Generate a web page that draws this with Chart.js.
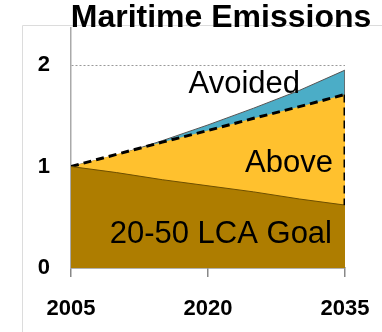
<!DOCTYPE html>
<html>
<head>
<meta charset="utf-8">
<title>Maritime Emissions</title>
<script src="https://cdn.jsdelivr.net/npm/chart.js@4/dist/chart.umd.min.js"></script>
<style>
  html, body { margin: 0; padding: 0; background: #fff; }
  #wrap { position: relative; width: 382px; height: 332px; }
</style>
</head>
<body>
<div id="wrap"><canvas id="c"></canvas></div>
<script>
// Emissions relative to 2005 (2005 = 1)
const years = [2005, 2010, 2015, 2020, 2025, 2030, 2035];
const goalValues = [1.0, 0.94, 0.87, 0.81, 0.75, 0.68, 0.62];      // 20-50 LCA goal
const aboveValues = [1.0, 1.12, 1.24, 1.355, 1.475, 1.59, 1.71];   // dashed trajectory
const totalValues = [1.0, 1.11, 1.255, 1.41, 1.575, 1.75, 1.95];   // business as usual
const yTickValues = [0, 1, 2];
const xTickValues = [2005, 2020, 2035];
const chartTitle = 'Maritime Emissions';
const areaLabels = ['Avoided', 'Above', '20-50 LCA Goal'];

const FONT = '"Liberation Sans", Arial, sans-serif';
const pts = vals => years.map((y, i) => ({ x: y, y: vals[i] }));
const last = years.length - 1;

// Frame, title and area labels drawn around the plot
const decor = {
  id: 'decor',
  beforeDraw(chart) {
    const ctx = chart.ctx;
    ctx.save();
    ctx.strokeStyle = '#dcdcdc';
    ctx.lineWidth = 1;
    ctx.beginPath();
    ctx.moveTo(22.5, 332);
    ctx.lineTo(22.5, 25.5);
    ctx.lineTo(382, 25.5);
    ctx.stroke();
    ctx.restore();
  },
  afterDraw(chart) {
    const ctx = chart.ctx;
    const xs = chart.scales.x, ys = chart.scales.y;
    ctx.save();
    ctx.fillStyle = '#000';
    ctx.textBaseline = 'alphabetic';
    ctx.font = 'bold 32px ' + FONT;
    ctx.textAlign = 'center';
    ctx.fillText(chartTitle, 221, 27);

    ctx.font = '31px ' + FONT;
    ctx.textAlign = 'right';
    const xr = xs.getPixelForValue(2035);
    ctx.fillText(areaLabels[0], xr - 45, ys.getPixelForValue(1.72));
    ctx.fillText(areaLabels[1], xr - 12, ys.getPixelForValue(0.946));
    ctx.fillText(areaLabels[2], xr - 13, ys.getPixelForValue(0.246));
    ctx.restore();
  }
};

new Chart(document.getElementById('c'), {
  type: 'line',
  data: {
    datasets: [
      {
        label: 'Goal to 2035',
        data: [{ x: years[last], y: aboveValues[last] }, { x: years[last], y: goalValues[last] }],
        borderColor: '#000', borderWidth: 3, borderDash: [8, 5],
        pointRadius: 0, fill: false, order: 0
      },
      {
        label: '20-50 LCA Goal',
        data: pts(goalValues),
        borderColor: '#6e4f00', borderWidth: 1,
        backgroundColor: '#AE7D00',
        pointRadius: 0, fill: 'origin', order: 1
      },
      {
        label: 'Above',
        data: pts(aboveValues),
        borderColor: '#000', borderWidth: 3, borderDash: [8, 5],
        backgroundColor: '#FFC12E',
        pointRadius: 0, fill: 'origin', order: 2
      },
      {
        label: 'Right edge',
        data: [{ x: years[last], y: totalValues[last] }, { x: years[last], y: 0 }],
        borderColor: '#666', borderWidth: 1,
        pointRadius: 0, fill: false, order: 3
      },
      {
        label: 'Avoided',
        data: pts(totalValues),
        borderColor: '#555', borderWidth: 1,
        backgroundColor: '#4BADC7',
        pointRadius: 0, fill: 'origin', order: 4
      }
    ]
  },
  options: {
    responsive: true,
    maintainAspectRatio: false,
    animation: false,
    devicePixelRatio: 1,
    layout: { padding: { top: 28, right: 37, bottom: 0, left: 0 } },
    plugins: { legend: { display: false }, tooltip: { enabled: false }, title: { display: false } },
    elements: { line: { tension: 0 } },
    scales: {
      x: {
        type: 'linear',
        min: 2005, max: 2035,
        afterBuildTicks: s => { s.ticks = xTickValues.map(v => ({ value: v })); },
        afterFit: s => { s.height = 64; s.paddingLeft = 0; s.paddingRight = 0; },
        border: { display: true, color: '#666', width: 1.5 },
        grid: { drawOnChartArea: false, drawTicks: true, tickLength: 9, color: '#888', lineWidth: 1.5 },
        ticks: {
          color: '#000', padding: 19,
          font: { family: FONT, size: 22, weight: 'bold' },
          callback: v => String(v),
          maxRotation: 0
        }
      },
      y: {
        type: 'linear',
        min: 0, max: 2.365,
        afterBuildTicks: s => { s.ticks = yTickValues.map(v => ({ value: v })); },
        afterFit: s => { s.width = 71; s.paddingTop = 0; s.paddingBottom = 0; },
        border: { display: true, color: '#aaa', width: 1.5, dash: [2, 2] },
        grid: {
          drawTicks: false,
          color: c => (c.tick && c.tick.value === 2 ? '#999' : 'rgba(0,0,0,0)'),
          lineWidth: 1
        },
        ticks: {
          color: '#000', padding: 21,
          font: { family: FONT, size: 22, weight: 'bold' },
          callback: v => String(v)
        }
      }
    }
  },
  plugins: [decor]
});
</script>
</body>
</html>
